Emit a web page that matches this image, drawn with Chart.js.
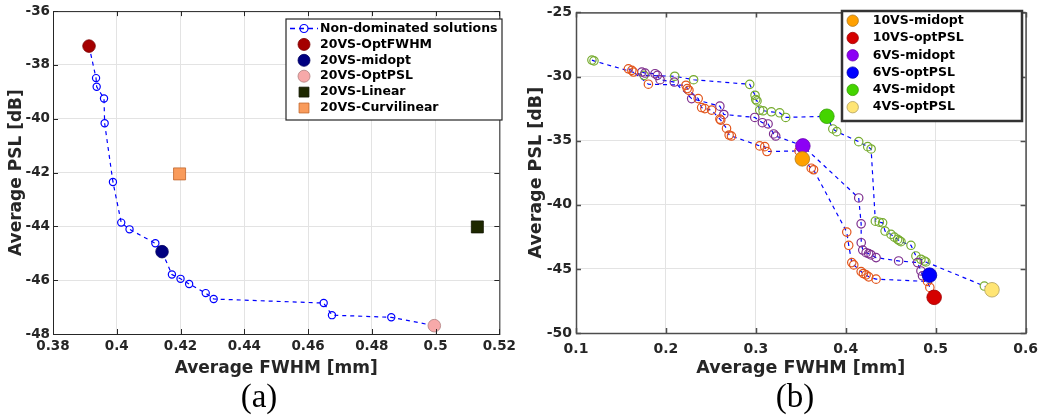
<!DOCTYPE html>
<html>
<head>
<meta charset="utf-8">
<script src="https://cdn.jsdelivr.net/npm/chart.js@4.4.0/dist/chart.umd.min.js"></script>
<style>
body { margin: 0; background: #fff; }
#wrap { position: relative; width: 1046px; height: 417px; overflow: hidden; }
canvas { position: absolute; top: 0; }
#ca { left: 0; }
#cb { left: 520px; }
.cap { position: absolute; top: 377px; width: 70px; line-height: 38px; text-align: center;
       font-family: "Liberation Serif", "Times New Roman", serif; font-size: 33px; color: #000; }
</style>
</head>
<body>
<div id="wrap">
  <canvas id="ca" width="520" height="385"></canvas>
  <canvas id="cb" width="526" height="385"></canvas>
  <div class="cap" style="left:224px">(a)</div>
  <div class="cap" style="left:760px">(b)</div>
</div>
<script>
// --- DONNEES (a) : front 20VS ---
const ndFwhm = [0.3935, 0.3937, 0.3960, 0.3962, 0.3988, 0.4014, 0.4040, 0.4121, 0.4173, 0.4200,
                0.4227, 0.4279, 0.4304, 0.4649, 0.4675, 0.4861];
const ndPsl  = [-38.49, -38.81, -39.25, -40.17, -42.35, -43.86, -44.11, -44.63, -45.79, -45.95,
                -46.14, -46.48, -46.70, -46.85, -47.30, -47.38];
const optFwhm20 = [0.3913, -37.30];
const midopt20 = [0.4142, -44.94];
const optPsl20 = [0.4996, -47.69];
const linear20 = [0.5131, -44.02];
const curvi20 = [0.4197, -42.05];

// --- DONNEES (b) : fronts 10VS / 6VS / 4VS ---
const vs10Fwhm = [0.1583, 0.1621, 0.1639, 0.1805, 0.2223, 0.2237, 0.2256, 0.2359, 0.2397, 0.2433,
                  0.2508, 0.2600, 0.2610, 0.2674, 0.2703, 0.2729, 0.3043, 0.3099, 0.3124, 0.3480,
                  0.3616, 0.3642, 0.4011, 0.4033, 0.4067, 0.4089, 0.4171, 0.4196, 0.4226, 0.4255,
                  0.4337, 0.4909, 0.4935];
const vs10Psl  = [-29.40, -29.52, -29.65, -30.60, -30.68, -30.94, -31.07, -31.72, -32.42, -32.50,
                  -32.62, -33.32, -33.40, -34.05, -34.56, -34.64, -35.41, -35.47, -35.85, -35.80,
                  -37.15, -37.27, -42.13, -43.16, -44.51, -44.69, -45.21, -45.36, -45.47, -45.62,
                  -45.80, -45.98, -46.45];
const vs6Fwhm = [0.1732, 0.1768, 0.1879, 0.1905, 0.1935, 0.2093, 0.2286, 0.2600, 0.2644, 0.2988,
                 0.3073, 0.3136, 0.3198, 0.3221, 0.4144, 0.4171, 0.4172, 0.4189, 0.4226, 0.4255,
                 0.4282, 0.4337, 0.4588, 0.4798, 0.4836, 0.4853];
const vs6Psl  = [-29.65, -29.73, -29.78, -29.91, -30.25, -30.43, -31.72, -32.31, -32.96, -33.19,
                 -33.60, -33.70, -34.48, -34.64, -39.47, -41.49, -42.96, -43.53, -43.74, -43.81,
                 -43.91, -44.12, -44.38, -44.51, -45.16, -45.54];
const vs4Fwhm = [0.1177, 0.1200, 0.1757, 0.2098, 0.2308, 0.2932, 0.2991, 0.2999, 0.3013, 0.3043,
                 0.3080, 0.3173, 0.3265, 0.3332, 0.3856, 0.3900, 0.4144, 0.4244, 0.4282, 0.4329,
                 0.4373, 0.4410, 0.4437, 0.4503, 0.4540, 0.4577, 0.4596, 0.4614, 0.4725, 0.4780,
                 0.4836, 0.4873, 0.4891, 0.5541];
const vs4Psl  = [-28.72, -28.78, -29.91, -29.98, -30.25, -30.61, -31.46, -31.80, -31.90, -32.62,
                 -32.67, -32.75, -32.83, -33.19, -34.09, -34.30, -35.08, -35.47, -35.65, -41.28,
                 -41.36, -41.41, -42.05, -42.31, -42.52, -42.70, -42.80, -42.88, -43.16, -43.99,
                 -44.25, -44.38, -44.46, -46.34];
const vs10Mid = [0.3517, -36.42];
const vs10Opt = [0.4983, -47.22];
const vs6Mid = [0.3523, -35.41];
const vs6Opt = [0.4931, -45.49];
const vs4Mid = [0.3790, -33.10];
const vs4Opt = [0.5626, -46.63];

// graduations
const aTicksX = [0.38, 0.52, 0.02];
const aTicksY = [-48, -36, 2];
const bTicksX = [0.1, 0.6, 0.1];
const bTicksY = [-50, -25, 5];

// --- OUTILS ---
const pts = (xs, ys) => xs.map((x, i) => ({ x: x, y: ys[i] }));
const one = p => [{ x: p[0], y: p[1] }];
const front = (xs, ys, extra) => pts(xs, ys).concat(extra.map(p => ({ x: p[0], y: p[1] })))
                                            .sort((p, q) => p.x - q.x);
const fmt = v => String(+v.toFixed(2));

Chart.defaults.font.family = '"DejaVu Sans", sans-serif';
Chart.defaults.font.weight = 'bold';
Chart.defaults.color = '#262626';

// cadre + petites graduations intérieures (style MATLAB)
const framePlugin = {
    id: 'frame',
    afterDatasetsDraw(chart, args, o) {
        const { ctx, chartArea: a, scales: { x, y } } = chart;
        ctx.save();
        ctx.strokeStyle = o.color;
        ctx.lineWidth = o.width;
        ctx.beginPath();
        x.ticks.forEach(t => {
            const px = Math.round(x.getPixelForValue(t.value)) + 0.5;
            ctx.moveTo(px, a.bottom); ctx.lineTo(px, a.bottom - o.tick);
            ctx.moveTo(px, a.top); ctx.lineTo(px, a.top + o.tick);
        });
        y.ticks.forEach(t => {
            const py = Math.round(y.getPixelForValue(t.value)) + 0.5;
            ctx.moveTo(a.left, py); ctx.lineTo(a.left + o.tick, py);
            ctx.moveTo(a.right, py); ctx.lineTo(a.right - o.tick, py);
        });
        ctx.stroke();
        ctx.strokeRect(a.left + 0.5, a.top + 0.5, a.right - a.left, a.bottom - a.top);
        ctx.restore();
    }
};

// légende encadrée dans la zone du graphe
const boxLegend = {
    id: 'boxLegend',
    afterDraw(chart, args, o) {
        const ctx = chart.ctx;
        const items = chart.data.datasets.filter(d => d.legendRow !== undefined)
                                         .sort((p, q) => p.legendRow - q.legendRow);
        ctx.save();
        ctx.fillStyle = '#fff';
        ctx.fillRect(o.x, o.y, o.w, o.h);
        ctx.strokeStyle = o.border;
        ctx.lineWidth = o.borderWidth;
        ctx.strokeRect(o.x, o.y, o.w, o.h);
        ctx.font = o.font;
        ctx.textBaseline = 'middle';
        items.forEach((d, i) => {
            const cy = o.y + o.first + i * o.row;
            if (d.legendLine) {
                ctx.strokeStyle = d.legendLine;
                ctx.lineWidth = 1.3;
                ctx.setLineDash([5, 4]);
                ctx.beginPath();
                ctx.moveTo(o.mx - 14, cy); ctx.lineTo(o.mx + 14, cy);
                ctx.stroke();
                ctx.setLineDash([]);
            }
            ctx.fillStyle = d.pointBackgroundColor;
            ctx.strokeStyle = d.pointBorderColor;
            ctx.lineWidth = d.pointBorderWidth;
            Chart.helpers.drawPoint(ctx, {
                pointStyle: d.pointStyle || 'circle', rotation: 0,
                radius: d.legendRadius, borderWidth: d.pointBorderWidth
            }, o.mx, cy);
            ctx.fillStyle = '#000';
            ctx.fillText(d.label, o.tx, cy);
        });
        ctx.restore();
    }
};

function linScale(t, tickFont, pad, fit, vertical) {
    return {
        type: 'linear', min: t[0], max: t[1],
        ticks: { stepSize: t[2], callback: fmt, font: { size: tickFont }, padding: pad, color: '#262626' },
        grid: { color: '#e3e3e3', lineWidth: 1, drawTicks: false },
        border: { display: false },
        afterFit: s => { if (vertical) s.width = fit; else s.height = fit; }
    };
}

function filled(label, p, bg, bd, r, row, lr, style) {
    return {
        label: label, data: one(p), order: 0, legendRow: row, legendRadius: lr,
        pointStyle: style || 'circle', pointRadius: r,
        pointBackgroundColor: bg, pointBorderColor: bd, pointBorderWidth: 0.8
    };
}

function openPts(label, xs, ys, color, r, row) {
    return {
        label: label, data: pts(xs, ys), order: 1, legendRow: row, legendRadius: 4,
        legendLine: row !== undefined ? '#0000ff' : undefined,
        pointStyle: 'circle', pointRadius: r,
        pointBackgroundColor: 'rgba(0,0,0,0)', pointBorderColor: color, pointBorderWidth: 1.2
    };
}

function dashed(data) {
    return {
        label: '', data: data, order: 2, showLine: true, pointRadius: 0,
        borderColor: '#0000ff', borderWidth: 1.2, borderDash: [4, 4], fill: false
    };
}

// --- GRAPHE (a) ---
new Chart(document.getElementById('ca'), {
    type: 'scatter',
    data: {
        datasets: [
            filled('20VS-OptFWHM', optFwhm20, '#a50000', '#7a0000', 6.3, 1, 6),
            filled('20VS-midopt', midopt20, '#000080', '#000060', 6.3, 2, 6),
            filled('20VS-OptPSL', optPsl20, '#f7a9a9', '#b08080', 6.3, 3, 6),
            filled('20VS-Linear', linear20, '#1e2800', '#101500', 8.5, 4, 7, 'rect'),
            filled('20VS-Curvilinear', curvi20, '#f99b5b', '#c0652a', 8.5, 5, 7, 'rect'),
            openPts('Non-dominated solutions', ndFwhm, ndPsl, '#0000ff', 3.6, 0),
            dashed(front(ndFwhm, ndPsl, [optFwhm20, midopt20, optPsl20]))
        ]
    },
    plugins: [framePlugin, boxLegend],
    options: {
        responsive: false, animation: false, events: [],
        layout: { padding: { left: 0, top: 10, right: 18, bottom: 0 } },
        scales: {
            x: Object.assign(linScale(aTicksX, 13.5, 4, 51, false),
                { title: { display: true, text: 'Average FWHM [mm]', font: { size: 17 }, color: '#262626', padding: { top: 0, bottom: 6 } } }),
            y: Object.assign(linScale(aTicksY, 13.5, 3, 53, true),
                { title: { display: true, text: 'Average PSL [dB]', font: { size: 17 }, color: '#262626', padding: { top: 6, bottom: 0 } } })
        },
        plugins: {
            legend: { display: false },
            tooltip: { enabled: false },
            frame: { color: '#262626', width: 1, tick: 5 },
            boxLegend: { x: 286, y: 19, w: 216, h: 101, first: 9.5, row: 15.9, mx: 304, tx: 320,
                         font: 'bold 12.5px "DejaVu Sans"', border: '#262626', borderWidth: 1.2 }
        }
    }
});

// --- GRAPHE (b) ---
new Chart(document.getElementById('cb'), {
    type: 'scatter',
    data: {
        datasets: [
            filled('10VS-midopt', vs10Mid, '#ffa000', '#b07a20', 7.3, 0, 5.7),
            filled('10VS-optPSL', vs10Opt, '#d50000', '#a00000', 7.3, 1, 5.7),
            filled('6VS-midopt', vs6Mid, '#8c00f5', '#6a00b0', 7.3, 2, 5.7),
            filled('6VS-optPSL', vs6Opt, '#0000ff', '#0000b0', 7.3, 3, 5.7),
            filled('4VS-midopt', vs4Mid, '#44d400', '#33a000', 7.3, 4, 5.7),
            filled('4VS-optPSL', vs4Opt, '#ffe574', '#b0a060', 7.3, 5, 5.7),
            openPts('10VS', vs10Fwhm, vs10Psl, '#e2561d', 4.2),
            openPts('6VS', vs6Fwhm, vs6Psl, '#7e2f8e', 4.2),
            openPts('4VS', vs4Fwhm, vs4Psl, '#77ac30', 4.2),
            dashed(front(vs10Fwhm, vs10Psl, [vs10Mid, vs10Opt])),
            dashed(front(vs6Fwhm, vs6Psl, [vs6Mid, vs6Opt])),
            dashed(front(vs4Fwhm, vs4Psl, [vs4Mid, vs4Opt]))
        ]
    },
    plugins: [framePlugin, boxLegend],
    options: {
        responsive: false, animation: false, events: [],
        layout: { padding: { left: 0, top: 10, right: 19, bottom: 0 } },
        scales: {
            x: Object.assign(linScale(bTicksX, 14, 8, 52, false),
                { title: { display: true, text: 'Average FWHM [mm]', font: { size: 17.5 }, color: '#262626', padding: { top: 0, bottom: 6 } } }),
            y: Object.assign(linScale(bTicksY, 14, 4, 56, true),
                { title: { display: true, text: 'Average PSL [dB]', font: { size: 17.5 }, color: '#262626', padding: { top: 6, bottom: 0 } } })
        },
        plugins: {
            legend: { display: false },
            tooltip: { enabled: false },
            frame: { color: '#4d4d4d', width: 1.5, tick: 5 },
            boxLegend: { x: 322, y: 11, w: 180, h: 110, first: 9.7, row: 17.3, mx: 332.7, tx: 352.7,
                         font: 'bold 12.5px "DejaVu Sans"', border: '#333', borderWidth: 2.5 }
        }
    }
});
</script>
</body>
</html>
